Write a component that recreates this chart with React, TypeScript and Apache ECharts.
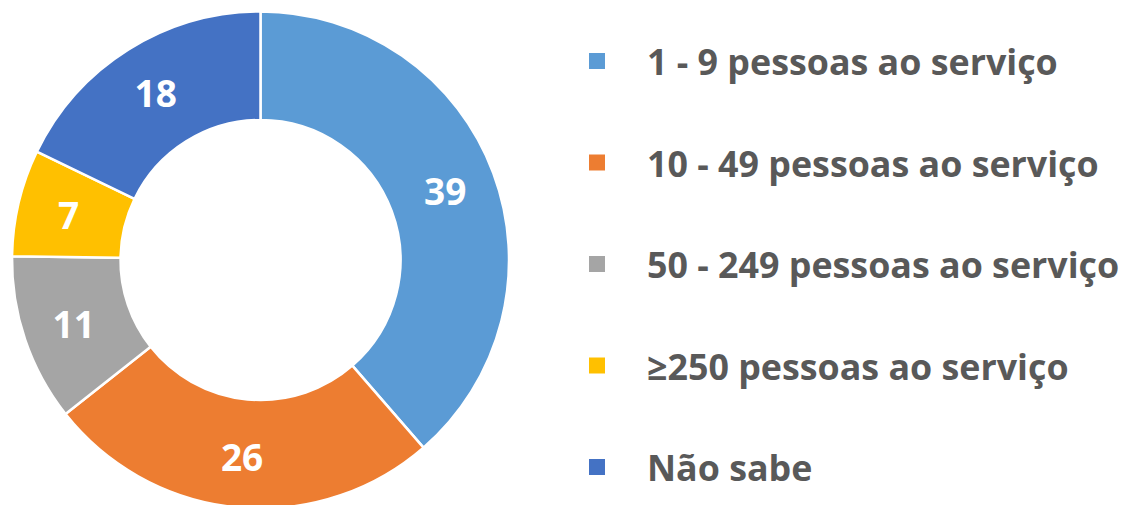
import React, { useEffect, useRef } from "react";
import * as echarts from "echarts";

const categories = [
  "1 - 9 pessoas ao serviço",
  "10 - 49 pessoas ao serviço",
  "50 - 249 pessoas ao serviço",
  "≥250 pessoas ao serviço",
  "Não sabe",
];
const values = [39, 26, 11, 7, 18];
const colors = ["#5B9BD5", "#ED7D31", "#A5A5A5", "#FFC000", "#4472C4"];

export default function App() {
  const ref = useRef<HTMLDivElement>(null);
  useEffect(() => {
    if (!ref.current) return;
    const chart = echarts.init(ref.current, null, { renderer: "svg" });
    chart.setOption({
      animation: false,
      backgroundColor: "#ffffff",
      color: colors,
      legend: {
        orient: "vertical",
        left: 587,
        top: 43,
        padding: 0,
        itemWidth: 18,
        itemHeight: 18,
        itemGap: 65.5,
        icon: "rect",
        textStyle: {
          fontFamily: "Open Sans",
          fontWeight: "bold",
          fontSize: 35.8,
          color: "#595959",
          lineHeight: 36,
          padding: [0, 0, 0, 36],
        },
        data: categories,
      },
      series: [
        {
          type: "pie",
          center: [260.5, 260],
          radius: [140, 248.5],
          startAngle: 90,
          clockwise: true,
          itemStyle: { borderColor: "#ffffff", borderWidth: 2.5 },
          label: {
            show: true,
            position: "inside",
            formatter: "{c}",
            color: "#ffffff",
            fontFamily: "Open Sans",
            fontWeight: "bold",
            fontSize: 37,
          },
          labelLine: { show: false },
          data: categories.map((name, i) => ({ name, value: values[i] })),
        },
      ],
    });
    return () => chart.dispose();
  }, []);
  return (
    <div
      ref={ref}
      style={{ position: "fixed", left: 0, top: 0, width: 1129, height: 505 }}
    />
  );
}
